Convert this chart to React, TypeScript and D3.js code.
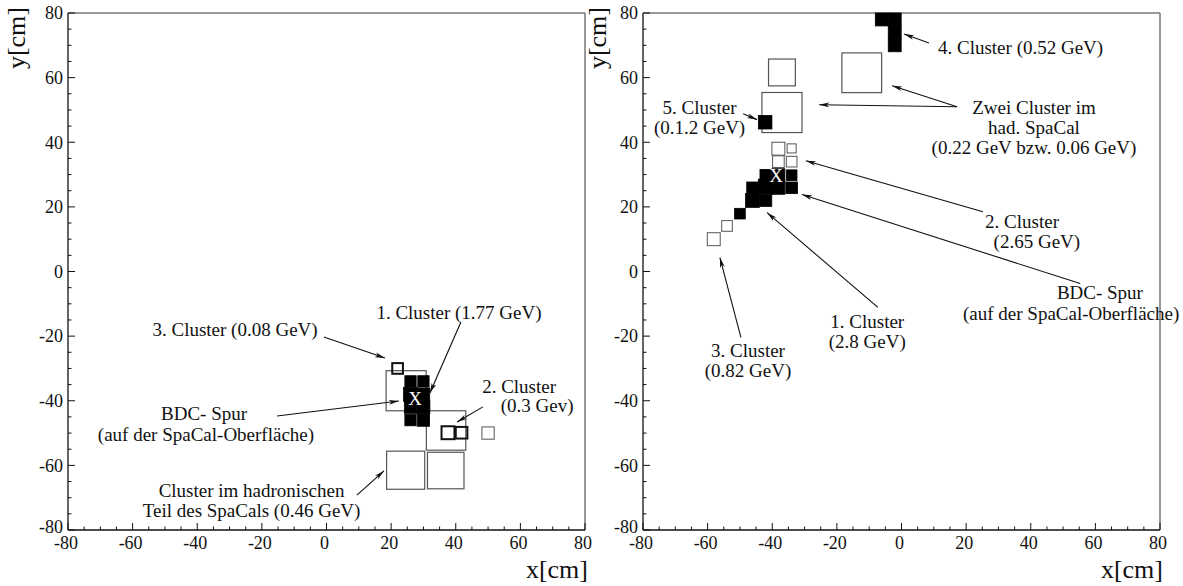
import * as d3 from "d3";

// cells: [x, y, size] in cm
const leftFilled: [number, number, number][] = [
  [26, -34, 3.5], [30, -34, 3.5], [26, -38, 4.3], [30, -38, 3.9],
  [26, -42, 3.8], [30, -42, 4.0], [26, -46, 3.5], [30, -46, 3.8],
];
const leftOpen: [number, number, number, number][] = [
  // x, y, size, stroke width
  [22, -30, 3.3, 2], [37.6, -49.9, 4, 2], [41.8, -49.9, 3.6, 2], [50, -50, 3.8, 1],
];
const leftHad: [number, number, number][] = [
  [24.65, -36.9, 12.4], [37, -49.2, 12.2], [24.5, -61.5, 11.8], [36.9, -61.6, 11.3],
];

const rightFilled: [number, number, number][] = [
  [-6.1, 78, 4], [-2.1, 78, 4], [-2.1, 74, 4], [-2.1, 70, 4],
  [-42.2, 46.2, 4.2],
  [-42, 29.8, 3.6], [-38.1, 29.8, 4], [-34, 29.8, 3.3],
  [-46.1, 25.9, 3.6], [-42, 26.3, 4.6], [-38.1, 25.9, 4], [-34, 25.9, 3.6],
  [-46.1, 22, 4.3], [-42, 22, 3.7],
  [-50, 17.9, 3.3],
];
const rightOpen: [number, number, number, number][] = [
  [-38.1, 38, 4, 1], [-34, 38.1, 2.8, 1], [-38.1, 34, 3.6, 1], [-34, 34, 3.3, 1],
  [-54, 14.1, 3.3, 1], [-58.1, 10, 4, 1],
];
const rightHad: [number, number, number][] = [
  [-37, 61.6, 8.3], [-37, 49.2, 12.4], [-12.3, 61.5, 12.3],
];

const leftTrack: [number, number] = [27.4, -39.2];
const rightTrack: [number, number] = [-38.8, 29.7];

// labels: lines, x, y (first line centre), anchor
type Label = { lines: string[]; x: number; y: number; anchor: string };
const leftLabels: Label[] = [
  { lines: ["1. Cluster (1.77 GeV)"], x: 41, y: -12.5, anchor: "middle" },
  { lines: ["2. Cluster"], x: 59.6, y: -35.4, anchor: "middle" },
  { lines: ["(0.3 Gev)"], x: 65.2, y: -41.3, anchor: "middle" },
  { lines: ["3. Cluster (0.08 GeV)"], x: -28.3, y: -17.8, anchor: "middle" },
  { lines: ["BDC- Spur"], x: -37.9, y: -43.8, anchor: "middle" },
  { lines: ["(auf der SpaCal-Oberfläche)"], x: -37.3, y: -50.5, anchor: "middle" },
  { lines: ["Cluster im hadronischen", "Teil des SpaCals (0.46 GeV)"], x: -23.2, y: -67.6, anchor: "middle" },
];
const rightLabels: Label[] = [
  { lines: ["4. Cluster (0.52 GeV)"], x: 11.3, y: 69.5, anchor: "start" },
  { lines: ["Zwei Cluster im", "had. SpaCal", "(0.22 GeV bzw. 0.06 GeV)"], x: 41, y: 50.7, anchor: "middle" },
  { lines: ["5. Cluster", "(0.1.2 GeV)"], x: -62.5, y: 50.7, anchor: "middle" },
  { lines: ["2. Cluster"], x: 37.3, y: 15.4, anchor: "middle" },
  { lines: ["(2.65 GeV)"], x: 41.9, y: 9.3, anchor: "middle" },
  { lines: ["BDC- Spur"], x: 61.4, y: -6.6, anchor: "middle" },
  { lines: ["(auf der SpaCal-Oberfläche)"], x: 52.5, y: -12.8, anchor: "middle" },
  { lines: ["1. Cluster", "(2.8 GeV)"], x: -10.6, y: -15.4, anchor: "middle" },
  { lines: ["3. Cluster", "(0.82 GeV)"], x: -47.5, y: -24.4, anchor: "middle" },
];

// arrows: [x1, y1, x2, y2] (arrowhead at x2,y2)
const leftArrows: [number, number, number, number][] = [
  [41.6, -15.6, 32, -37.6],
  [48.4, -41.9, 40.4, -46.6],
  [-0.8, -20.3, 18.1, -26.8],
  [-15.3, -44.7, 22.4, -40.1],
  [9.4, -69.2, 17.8, -61.7],
];
const rightArrows: [number, number, number, number][] = [
  [8.5, 70.7, 0.8, 73.5],
  [17.2, 51, -2.9, 57.5],
  [17.2, 51, -25.5, 51.6],
  [-49, 48.8, -44.7, 47],
  [25.2, 18.5, -29.6, 34.3],
  [55.3, -3.7, -30.8, 23.8],
  [-7.3, -11.1, -41.6, 18.2],
  [-49.7, -20.4, -56.2, 4.3],
];

const tickValues = d3.range(-80, 81, 5);
const tickLabels = ["-80", "-60", "-40", "-20", "0", "20", "40", "60", "80"];

const FONT = "'Liberation Serif', 'Times New Roman', serif";
const W = 517;
const H = 517;

interface PanelProps {
  left: number;
  top: number;
  filled: [number, number, number][];
  open: [number, number, number, number][];
  had: [number, number, number][];
  track: [number, number];
  labels: Label[];
  arrows: [number, number, number, number][];
  yLabelX: number;
}

const Panel = ({ left, top, filled, open, had, track, labels, arrows, yLabelX }: PanelProps) => {
  const x = d3.scaleLinear().domain([-80, 80]).range([0, W]);
  const y = d3.scaleLinear().domain([-80, 80]).range([H, 0]);
  const sq = (c: number[]) => {
    const w = x(c[2]) - x(0);
    return { x: x(c[0]) - w / 2, y: y(c[1]) - w / 2, w };
  };
  return (
    <g transform={`translate(${left},${top})`} fontFamily={FONT}>
      {/* frame */}
      <line x1={0} y1={0} x2={W} y2={0} stroke="#777" strokeWidth={1.5} />
      <line x1={W} y1={0} x2={W} y2={H} stroke="#777" strokeWidth={1.5} />
      <line x1={0} y1={0} x2={0} y2={H} stroke="#111" strokeWidth={1.3} />
      <line x1={0} y1={H} x2={W} y2={H} stroke="#111" strokeWidth={1.3} />
      {tickValues.map((v) => {
        const len = v % 20 === 0 ? 7 : 3.5;
        return (
          <g key={v}>
            <line x1={0} x2={len} y1={y(v)} y2={y(v)} stroke="#111" strokeWidth={1} />
            <line x1={x(v)} x2={x(v)} y1={H} y2={H - len} stroke="#111" strokeWidth={1} />
          </g>
        );
      })}
      {tickLabels.map((t) => (
        <g key={t} fontSize={18} fill="#111">
          <text x={-5} y={y(+t) - (+t === -80 ? 3 : 0)} dy="0.35em" textAnchor="end">{t}</text>
          <text x={x(+t) - 2} y={H + 19} textAnchor="middle">{t}</text>
        </g>
      ))}
      <text x={W + 3} y={H + 48} textAnchor="end" fontSize={26} fill="#111">x[cm]</text>
      <text
        transform={`translate(${yLabelX},-6) rotate(-90)`}
        textAnchor="end"
        fontSize={26}
        fill="#111"
      >
        y[cm]
      </text>

      {/* hadronic cells */}
      {had.map((c, i) => {
        const s = sq(c);
        return <rect key={"h" + i} x={s.x} y={s.y} width={s.w} height={s.w} fill="none" stroke="#555" strokeWidth={1.2} />;
      })}
      {filled.map((c, i) => {
        const s = sq(c);
        return <rect key={"f" + i} x={s.x} y={s.y} width={s.w} height={s.w} fill="#000" stroke="#000" strokeWidth={0.8} />;
      })}
      {open.map((c, i) => {
        const s = sq(c);
        return <rect key={"o" + i} x={s.x} y={s.y} width={s.w} height={s.w} fill="none" stroke={c[3] > 1 ? "#111" : "#555"} strokeWidth={c[3]} />;
      })}
      <text x={x(track[0])} y={y(track[1])} dy="0.35em" textAnchor="middle" fontSize={19} fill="#fff">X</text>

      {/* annotations */}
      {arrows.map((a, i) => (
        <line key={"a" + i} x1={x(a[0])} y1={y(a[1])} x2={x(a[2])} y2={y(a[3])} stroke="#111" strokeWidth={1.1} markerEnd="url(#arrowhead)" />
      ))}
      {labels.map((l, i) => (
        <text key={"l" + i} x={x(l.x)} y={y(l.y)} textAnchor={l.anchor} fontSize={19} fill="#111">
          {l.lines.map((ln, j) => (
            <tspan key={j} x={x(l.x)} dy={j === 0 ? "0.35em" : "1.05em"}>{ln}</tspan>
          ))}
        </text>
      ))}
    </g>
  );
};

export default function App() {
  return (
    <svg width={1183} height={586} style={{ position: "absolute", left: 0, top: 0, background: "#fff" }}>
      <defs>
        <marker id="arrowhead" viewBox="0 0 10 6" refX={10} refY={3} markerWidth={10} markerHeight={6} markerUnits="userSpaceOnUse" orient="auto">
          <path d="M0,0.6 L10,3 L0,5.4 L2.5,3 Z" fill="#111" />
        </marker>
      </defs>
      <rect width={1183} height={586} fill="#fff" />
      <Panel left={68} top={13} filled={leftFilled} open={leftOpen} had={leftHad} track={leftTrack} labels={leftLabels} arrows={leftArrows} yLabelX={-43} />
      <Panel left={643} top={13} filled={rightFilled} open={rightOpen} had={rightHad} track={rightTrack} labels={rightLabels} arrows={rightArrows} yLabelX={-37} />
    </svg>
  );
}
